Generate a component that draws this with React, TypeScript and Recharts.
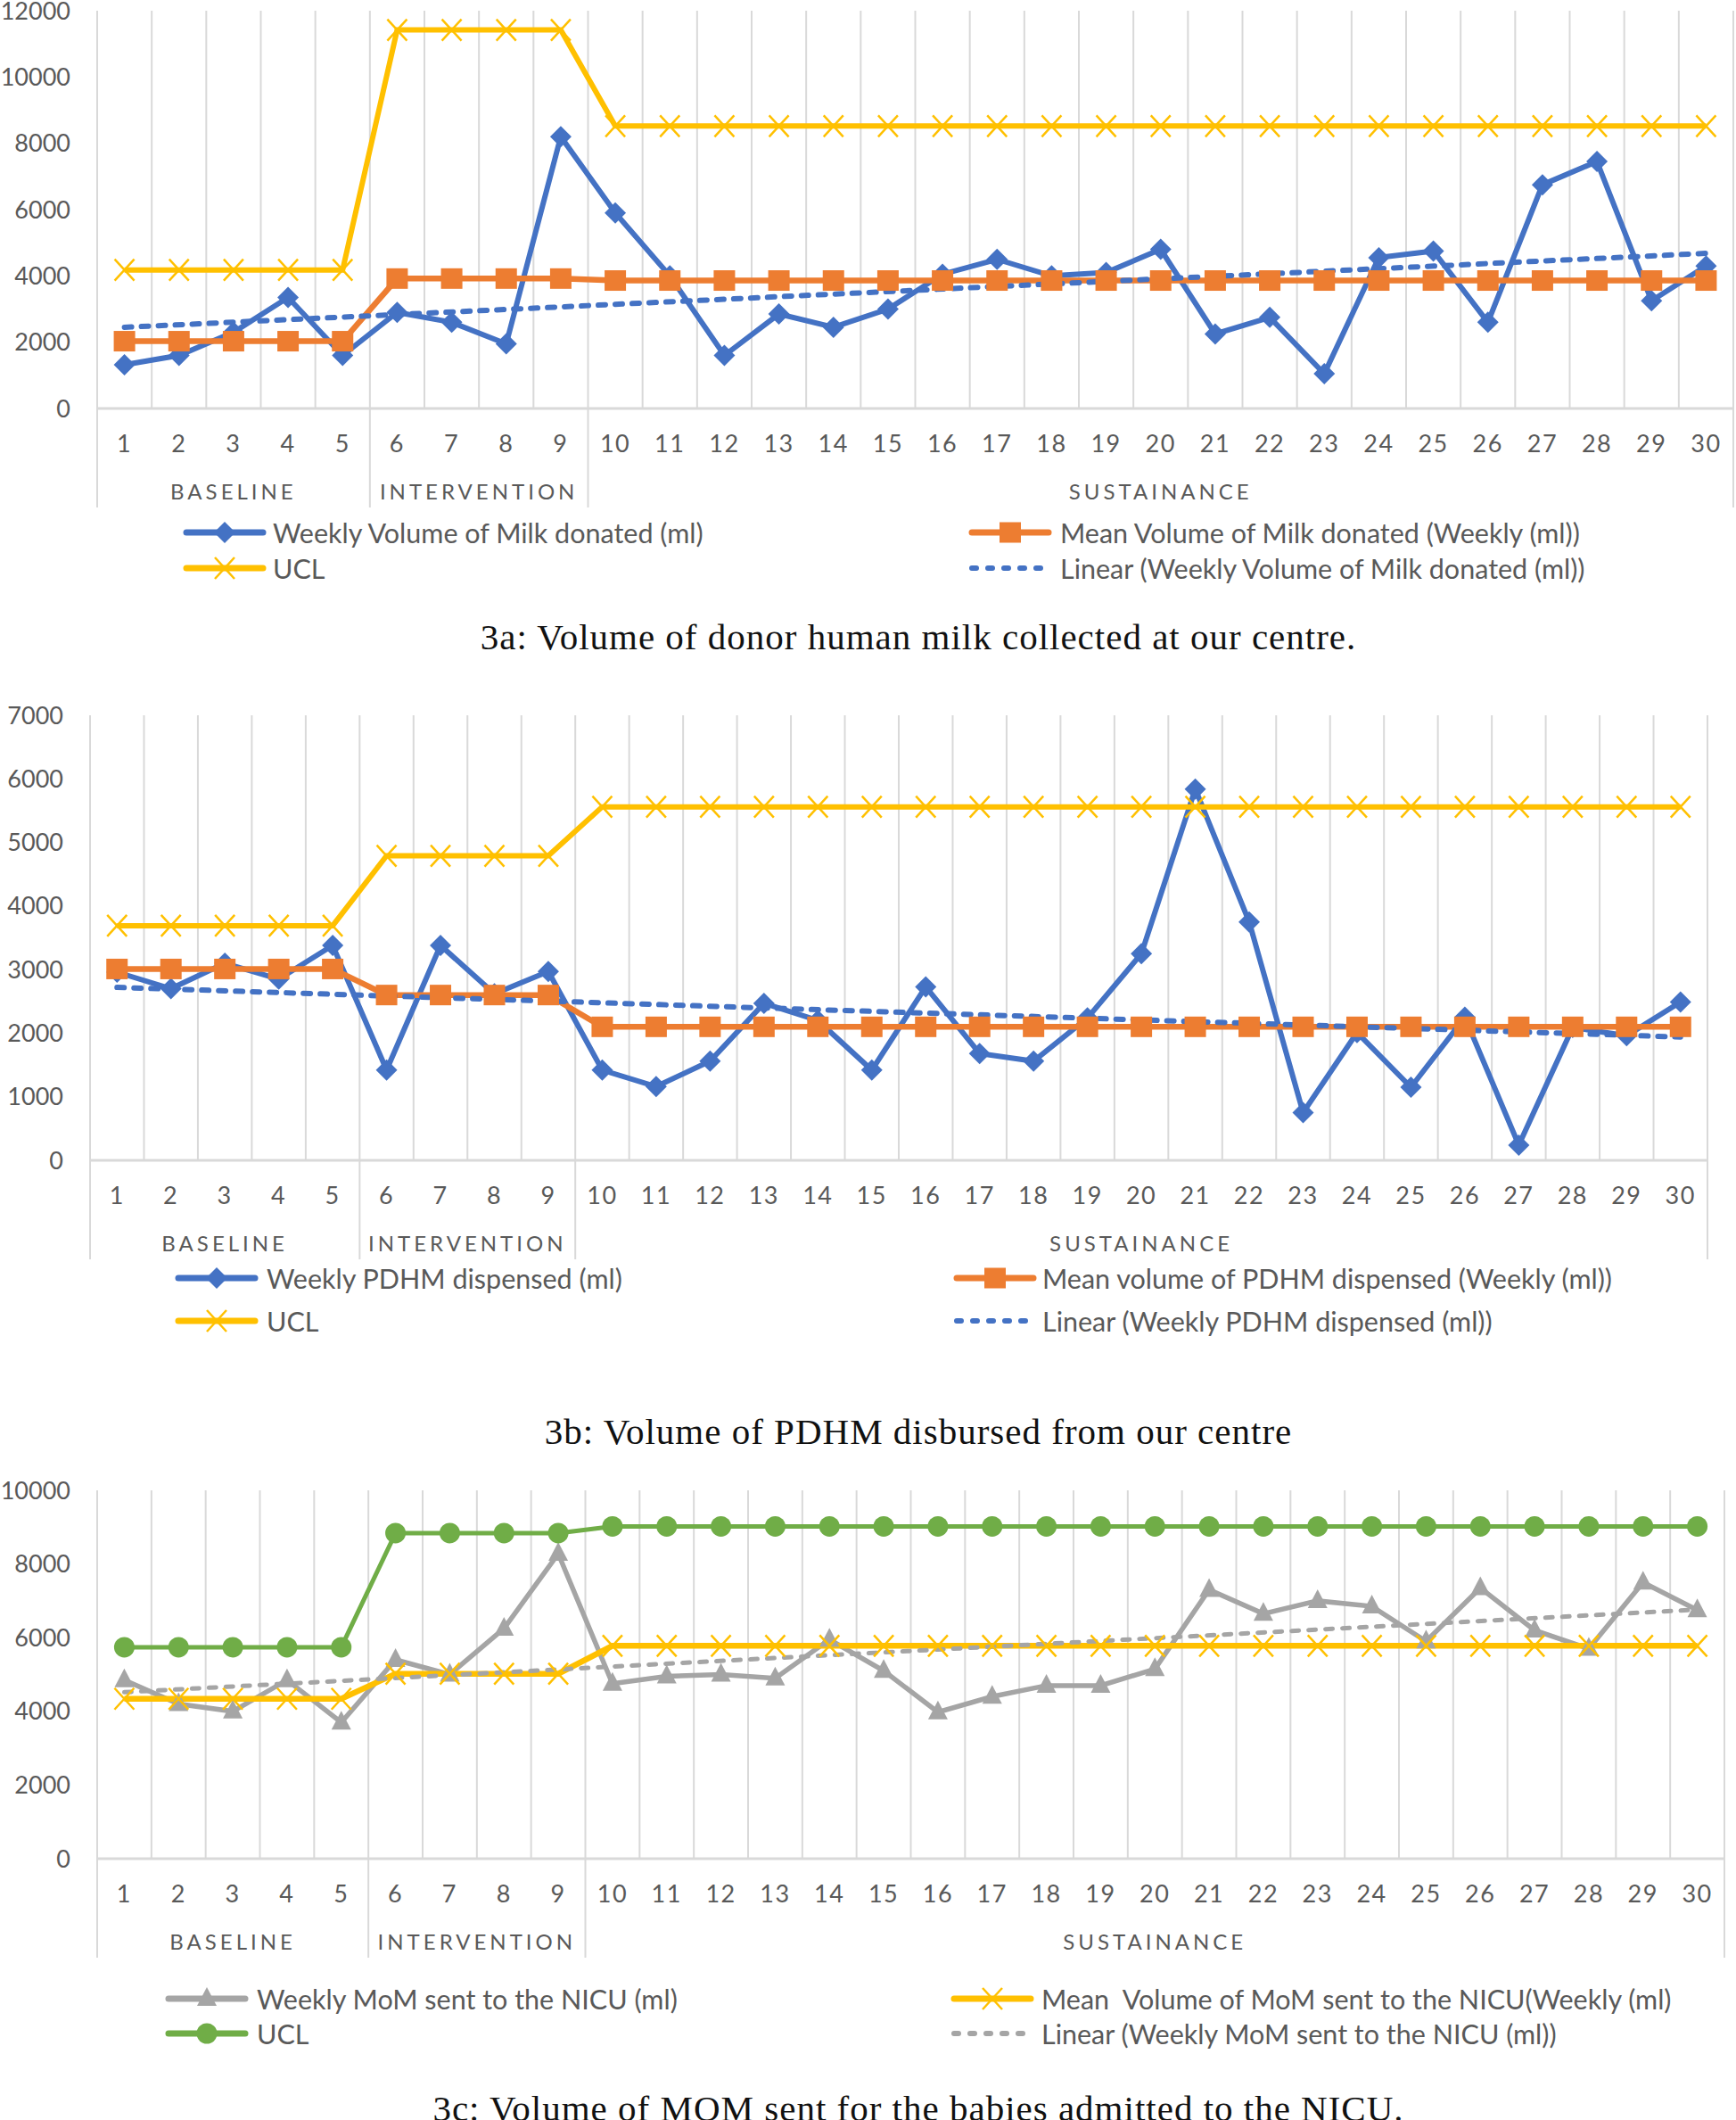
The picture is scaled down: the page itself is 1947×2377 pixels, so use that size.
import { LineChart, Line, XAxis, YAxis, CartesianGrid } from 'recharts'

// shared x categories (weeks) and phase grouping
const weeks = [1, 2, 3, 4, 5, 6, 7, 8, 9, 10, 11, 12, 13, 14, 15, 16, 17, 18, 19, 20, 21, 22, 23, 24, 25, 26, 27, 28, 29, 30]
const phaseLabels = ['BASELINE', 'INTERVENTION', 'SUSTAINANCE']
const phaseBounds = [0.5, 5.5, 9.5, 30.5]
const phaseCenters = [3, 7.5, 20]

// 3a: donor milk collected
const milkDonated = [1320, 1600, 2300, 3350, 1600, 2900, 2600, 1950, 8200, 5900, 4000, 1600, 2850, 2450, 3000, 4050, 4500, 4000, 4100, 4800, 2250, 2750, 1050, 4550, 4750, 2600, 6750, 7450, 3250, 4300]
const milkMean = [2030, 2030, 2030, 2030, 2030, 3920, 3920, 3920, 3920, 3860, 3860, 3860, 3860, 3860, 3860, 3860, 3860, 3860, 3860, 3860, 3860, 3860, 3860, 3860, 3860, 3860, 3860, 3860, 3860, 3860]
const milkUcl = [4180, 4180, 4180, 4180, 4180, 11420, 11420, 11420, 11420, 8520, 8520, 8520, 8520, 8520, 8520, 8520, 8520, 8520, 8520, 8520, 8520, 8520, 8520, 8520, 8520, 8520, 8520, 8520, 8520, 8520]
const milkTrend = [2450, 4680]
const milkTicks = [0, 2000, 4000, 6000, 8000, 10000, 12000]

// 3b: PDHM dispensed
const pdhmDispensed = [2960, 2700, 3100, 2850, 3380, 1420, 3380, 2620, 2970, 1420, 1160, 1560, 2470, 2200, 1420, 2730, 1680, 1560, 2240, 3250, 5840, 3750, 750, 2010, 1150, 2250, 240, 2090, 1960, 2490]
const pdhmMean = [3010, 3010, 3010, 3010, 3010, 2600, 2600, 2600, 2600, 2100, 2100, 2100, 2100, 2100, 2100, 2100, 2100, 2100, 2100, 2100, 2100, 2100, 2100, 2100, 2100, 2100, 2100, 2100, 2100, 2100]
const pdhmUcl = [3690, 3690, 3690, 3690, 3690, 4790, 4790, 4790, 4790, 5560, 5560, 5560, 5560, 5560, 5560, 5560, 5560, 5560, 5560, 5560, 5560, 5560, 5560, 5560, 5560, 5560, 5560, 5560, 5560, 5560]
const pdhmTrend = [2720, 1940]
const pdhmTicks = [0, 1000, 2000, 3000, 4000, 5000, 6000, 7000]

// 3c: mother's own milk sent to NICU
const momSent = [4850, 4200, 4000, 4850, 3700, 5400, 5000, 6250, 8280, 4750, 4950, 5000, 4900, 5950, 5100, 3980, 4400, 4700, 4700, 5150, 7300, 6650, 7000, 6850, 5900, 7350, 6200, 5700, 7500, 6750]
const momMean = [4340, 4340, 4340, 4340, 4340, 5020, 5020, 5020, 5020, 5780, 5780, 5780, 5780, 5780, 5780, 5780, 5780, 5780, 5780, 5780, 5780, 5780, 5780, 5780, 5780, 5780, 5780, 5780, 5780, 5780]
const momUcl = [5740, 5740, 5740, 5740, 5740, 8840, 8840, 8840, 8840, 9020, 9020, 9020, 9020, 9020, 9020, 9020, 9020, 9020, 9020, 9020, 9020, 9020, 9020, 9020, 9020, 9020, 9020, 9020, 9020, 9020]
const momTrend = [4520, 6760]
const momTicks = [0, 2000, 4000, 6000, 8000, 10000]

const BLUE = '#4472C4'
const ORANGE = '#ED7D31'
const YELLOW = '#FFC000'
const GREY = '#A5A5A5'
const GREEN = '#70AD47'
const GRID = '#D9D9D9'
const TEXT = '#595959'
const FONT = "Lato, 'Open Sans', sans-serif"
const SERIF = "'Liberation Serif', 'DejaVu Serif', serif"
const DASH = '8 11'
const AXIS_H = 112
const PAGE_W = 1947

type MarkerKind = 'diamond' | 'square' | 'cross' | 'triangle' | 'circle'

interface SeriesDef {
  key: string
  label: string
  values: (number | null)[]
  color: string
  width: number
  marker?: MarkerKind
  dashed?: boolean
}

function trendValues(ends: number[]): (number | null)[] {
  return weeks.map((_, i) => (i === 0 ? ends[0] : i === weeks.length - 1 ? ends[1] : null))
}

function Marker({ kind, cx, cy, color }: { kind: MarkerKind; cx: number; cy: number; color: string }) {
  if (cx == null || cy == null || isNaN(cx) || isNaN(cy)) return <g />
  switch (kind) {
    case 'diamond':
      return <polygon points={`${cx},${cy - 12} ${cx + 12},${cy} ${cx},${cy + 12} ${cx - 12},${cy}`} fill={color} />
    case 'square':
      return <rect x={cx - 12} y={cy - 11.5} width={24} height={23} fill={color} />
    case 'cross':
      return (
        <g stroke={color} strokeWidth={2.5}>
          <line x1={cx - 11} y1={cy - 12} x2={cx + 11} y2={cy + 12} />
          <line x1={cx - 11} y1={cy + 12} x2={cx + 11} y2={cy - 12} />
        </g>
      )
    case 'triangle':
      return <polygon points={`${cx},${cy - 13} ${cx + 11},${cy + 8} ${cx - 11},${cy + 8}`} fill={color} />
    case 'circle':
      return <circle cx={cx} cy={cy} r={11.5} fill={color} />
  }
}

const gridTicks = [0.5, ...weeks.map((w) => w + 0.5)]
const axisTicks = Array.from(new Set([...phaseBounds, ...weeks, ...phaseCenters])).sort((a, b) => a - b)

function WeekTick(props: any) {
  const { x, y, payload } = props
  const v = payload.value as number
  const pi = phaseCenters.indexOf(v)
  return (
    <g>
      {phaseBounds.includes(v) && <line x1={x} x2={x} y1={y} y2={y + AXIS_H - 1} stroke={GRID} strokeWidth={2} />}
      {Number.isInteger(v) && (
        <text x={x} y={y + 38} textAnchor="middle" dominantBaseline="central" fill={TEXT} fontSize={27} fontFamily={FONT} letterSpacing={1.5}>
          {v}
        </text>
      )}
      {pi >= 0 && (
        <text x={x} y={y + 92} textAnchor="middle" dominantBaseline="central" fill={TEXT} fontSize={24} fontFamily={FONT} letterSpacing={4}>
          {phaseLabels[pi]}
        </text>
      )}
    </g>
  )
}

interface ChartProps {
  top: number
  plotTop: number
  plotBottom: number
  plotLeft: number
  plotRight: number
  yMax: number
  yTicks: number[]
  series: SeriesDef[]
}

function SpcChart({ top, plotTop, plotBottom, plotLeft, plotRight, yMax, yTicks, series }: ChartProps) {
  const rows = weeks.map((w, i) => {
    const row: Record<string, number | null> = { week: w }
    series.forEach((s) => {
      row[s.key] = s.values[i]
    })
    return row
  })
  const height = plotBottom - top + AXIS_H
  return (
    <div style={{ position: 'absolute', left: 0, top, width: PAGE_W, height }}>
      <LineChart
        width={PAGE_W}
        height={height}
        data={rows}
        margin={{ top: plotTop - top, right: PAGE_W - plotRight, bottom: 0, left: 0 }}
      >
        <XAxis xAxisId="grid" type="number" dataKey="week" domain={[0.5, 30.5]} ticks={gridTicks} interval={0} height={0} hide />
        <CartesianGrid xAxisId="grid" horizontal={false} stroke={GRID} strokeWidth={2} />
        <XAxis
          xAxisId="week"
          type="number"
          dataKey="week"
          domain={[0.5, 30.5]}
          ticks={axisTicks}
          interval={0}
          height={AXIS_H}
          tickSize={0}
          tickMargin={0}
          axisLine={{ stroke: GRID, strokeWidth: 3 }}
          tickLine={false}
          tick={(p: any) => <WeekTick {...p} />}
        />
        <YAxis
          domain={[0, yMax]}
          ticks={yTicks}
          interval={0}
          width={plotLeft}
          axisLine={false}
          tickLine={false}
          tickSize={0}
          tickMargin={30}
          tick={{ fill: TEXT, fontSize: 27, fontFamily: FONT }}
        />
        {series.map((s) => (
          <Line
            key={s.key}
            xAxisId="week"
            type="linear"
            dataKey={s.key}
            stroke={s.color}
            strokeWidth={s.width}
            strokeDasharray={s.dashed ? DASH : undefined}
            strokeLinecap={s.dashed ? 'round' : 'butt'}
            connectNulls
            dot={
              s.marker
                ? (p: any) => <Marker key={`${s.key}-${p.index}`} kind={s.marker as MarkerKind} cx={p.cx} cy={p.cy} color={s.color} />
                : false
            }
            activeDot={false}
            isAnimationActive={false}
          />
        ))}
      </LineChart>
    </div>
  )
}

function LegendEntry({ x, y, textX, item }: { x: number; y: number; textX: number; item: SeriesDef }) {
  return (
    <div style={{ position: 'absolute', left: x, top: y - 20, height: 40, display: 'flex', alignItems: 'center' }}>
      <svg width={94} height={40} style={{ flex: 'none' }}>
        <line
          x1={item.dashed ? 4 : 4}
          x2={item.dashed ? 92 : 90}
          y1={20}
          y2={20}
          stroke={item.color}
          strokeWidth={item.dashed ? 6 : 7}
          strokeLinecap="round"
          strokeDasharray={item.dashed ? '5 13' : undefined}
        />
        {item.marker && <Marker kind={item.marker} cx={47} cy={20} color={item.color} />}
      </svg>
      <span
        style={{
          marginLeft: textX - x - 94,
          fontFamily: FONT,
          fontSize: 30.5,
          color: TEXT,
          whiteSpace: 'pre',
        }}
      >
        {item.label}
      </span>
    </div>
  )
}

function Legend({ rows, left, leftText, right, rightText, items }: { rows: number[]; left: number; leftText: number; right: number; rightText: number; items: SeriesDef[] }) {
  // items order: [row1 left, row1 right, row2 left, row2 right]
  return (
    <>
      <LegendEntry x={left} y={rows[0]} textX={leftText} item={items[0]} />
      <LegendEntry x={right} y={rows[0]} textX={rightText} item={items[1]} />
      <LegendEntry x={left} y={rows[1]} textX={leftText} item={items[2]} />
      <LegendEntry x={right} y={rows[1]} textX={rightText} item={items[3]} />
    </>
  )
}

function Caption({ y, text }: { y: number; text: string }) {
  return (
    <div
      style={{
        position: 'absolute',
        left: 1030,
        top: y,
        transform: 'translate(-50%, -50%)',
        whiteSpace: 'nowrap',
        fontFamily: SERIF,
        fontSize: 41,
        letterSpacing: 1,
        color: '#111',
      }}
    >
      {text}
    </div>
  )
}

const seriesA: SeriesDef[] = [
  { key: 'weekly', label: 'Weekly Volume of Milk donated (ml)', values: milkDonated, color: BLUE, width: 6, marker: 'diamond' },
  { key: 'mean', label: 'Mean Volume of Milk donated (Weekly (ml))', values: milkMean, color: ORANGE, width: 6.5, marker: 'square' },
  { key: 'ucl', label: 'UCL', values: milkUcl, color: YELLOW, width: 6, marker: 'cross' },
  { key: 'trend', label: 'Linear (Weekly Volume of Milk donated (ml))', values: trendValues(milkTrend), color: BLUE, width: 6, dashed: true },
]

const seriesB: SeriesDef[] = [
  { key: 'weekly', label: 'Weekly PDHM dispensed (ml)', values: pdhmDispensed, color: BLUE, width: 6, marker: 'diamond' },
  { key: 'mean', label: 'Mean volume of PDHM dispensed (Weekly (ml))', values: pdhmMean, color: ORANGE, width: 6.5, marker: 'square' },
  { key: 'ucl', label: 'UCL', values: pdhmUcl, color: YELLOW, width: 6, marker: 'cross' },
  { key: 'trend', label: 'Linear (Weekly PDHM dispensed (ml))', values: trendValues(pdhmTrend), color: BLUE, width: 6, dashed: true },
]

const seriesC: SeriesDef[] = [
  { key: 'weekly', label: 'Weekly MoM sent to the NICU (ml)', values: momSent, color: GREY, width: 5.5, marker: 'triangle' },
  { key: 'mean', label: 'Mean  Volume of MoM sent to the NICU(Weekly (ml)', values: momMean, color: YELLOW, width: 6.5, marker: 'cross' },
  { key: 'ucl', label: 'UCL', values: momUcl, color: GREEN, width: 5, marker: 'circle' },
  { key: 'trend', label: 'Linear (Weekly MoM sent to the NICU (ml))', values: trendValues(momTrend), color: GREY, width: 5, dashed: true },
]

export default function App() {
  return (
    <div style={{ position: 'absolute', left: 0, top: 0, width: PAGE_W, height: 2377, background: '#fff', overflow: 'hidden' }}>
      <SpcChart top={0} plotTop={12} plotBottom={458} plotLeft={109} plotRight={1944} yMax={12000} yTicks={milkTicks} series={seriesA} />
      <Legend rows={[597, 637]} left={205} leftText={306} right={1086} rightText={1189} items={[seriesA[0], seriesA[1], seriesA[2], seriesA[3]]} />
      <Caption y={714} text="3a: Volume of donor human milk collected at our centre." />

      <SpcChart top={760} plotTop={802} plotBottom={1301} plotLeft={101} plotRight={1915} yMax={7000} yTicks={pdhmTicks} series={seriesB} />
      <Legend rows={[1433, 1481]} left={196} leftText={299} right={1069} rightText={1169} items={[seriesB[0], seriesB[1], seriesB[2], seriesB[3]]} />
      <Caption y={1605} text="3b: Volume of PDHM disbursed from our centre" />

      <SpcChart top={1630} plotTop={1671} plotBottom={2084} plotLeft={109} plotRight={1934} yMax={10000} yTicks={momTicks} series={seriesC} />
      <Legend rows={[2241, 2280]} left={185} leftText={288} right={1066} rightText={1168} items={[seriesC[0], seriesC[1], seriesC[2], seriesC[3]]} />
      <Caption y={2364} text="3c: Volume of MOM sent for the babies admitted to the NICU." />
    </div>
  )
}
